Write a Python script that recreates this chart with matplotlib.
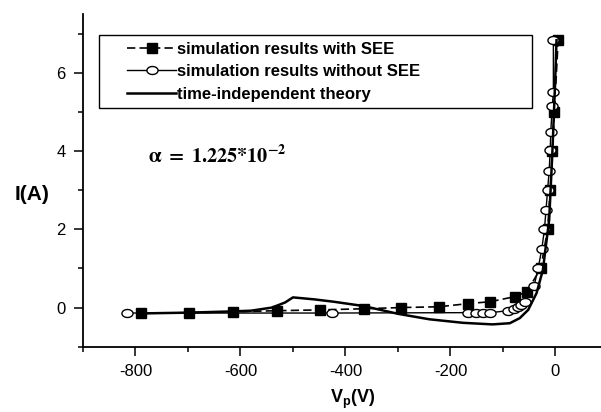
import matplotlib
matplotlib.use("Agg")
import matplotlib.pyplot as plt
import numpy as np
from matplotlib.path import Path
from matplotlib.lines import Line2D
from matplotlib.legend_handler import HandlerLine2D
from matplotlib.ticker import MultipleLocator

# simulation results with SEE (filled squares)
see_v = [-790, -698, -615, -530, -449, -365, -294, -222, -167, -124, -77, -55,
         -28, -15, -10, -6, -2, 5]
see_i = [-0.15, -0.13, -0.11, -0.08, -0.06, -0.03, 0.0, 0.02, 0.10, 0.15, 0.28, 0.40,
         1.0, 2.0, 3.0, 4.0, 5.0, 6.83]

# simulation results without SEE (open circles)
nosee_v = [-816, -425, -166, -152, -138, -124, -90, -79, -72, -65, -58, -41,
           -33, -26, -21, -18, -15, -12, -10, -9, -6, -4, -4]
nosee_i = [-0.14, -0.14, -0.13, -0.13, -0.13, -0.13, -0.08, -0.04, 0.01, 0.07, 0.14, 0.54,
           1.0, 1.5, 2.0, 2.5, 3.0, 3.5, 4.03, 4.49, 5.15, 5.51, 6.83]

# time-independent theory
theory_v = [-790, -700, -620, -580, -540, -515, -500, -460, -423, -366, -300, -240,
            -176, -120, -87, -68, -52, -36, -24, -19, -12, -6, -1, 2]
theory_i = [-0.15, -0.13, -0.10, -0.08, 0.0, 0.13, 0.26, 0.21, 0.15, 0.04, -0.16, -0.30,
            -0.39, -0.43, -0.40, -0.27, -0.06, 0.37, 0.96, 1.5, 2.24, 3.94, 5.64, 6.83]

plt.rcParams['font.family'] = ['Liberation Sans', 'DejaVu Sans']
plt.rcParams['axes.unicode_minus'] = False
plt.rcParams['mathtext.fontset'] = 'custom'
plt.rcParams['mathtext.rm'] = 'Liberation Sans:bold'
plt.rcParams['mathtext.bf'] = 'Liberation Sans:bold'
plt.rcParams['mathtext.it'] = 'Liberation Sans:bold'

# slightly flattened circle, like the reference
t = np.linspace(0, 2 * np.pi, 40)
ellipse = Path(np.column_stack([np.cos(t), 0.72 * np.sin(t)]), closed=True)

fig = plt.figure(figsize=(6.01, 4.12), dpi=100)
ax = fig.add_axes([0.1381, 0.1585, 0.8735, 0.8075])

ax.plot(see_v, see_i, color='black', lw=1.2, ls=(0, (5, 2.5)), marker='s', ms=7,
        mfc='black', mec='black', label='simulation results with SEE', zorder=3)
ax.plot(nosee_v, nosee_i, color='black', lw=1.0, marker=ellipse, ms=8,
        mfc='white', mec='black', mew=1.0, label='simulation results without SEE', zorder=4)
ax.plot(theory_v, theory_i, color='black', lw=1.8, label='time-independent theory', zorder=5)

ax.set_xlim(-900, 100)
ax.set_ylim(-1, 7.5)
ax.xaxis.set_major_locator(MultipleLocator(200))
ax.xaxis.set_minor_locator(MultipleLocator(100))
ax.yaxis.set_major_locator(MultipleLocator(2))
ax.yaxis.set_minor_locator(MultipleLocator(1))

for side in ['top', 'right']:
    ax.spines[side].set_visible(False)
for side in ['left', 'bottom']:
    ax.spines[side].set_linewidth(1.3)

ax.tick_params(which='major', direction='out', length=6.5, width=1.1, labelsize=12, pad=6)
ax.tick_params(which='minor', direction='out', length=3.5, width=1.1)

ax.set_xlabel(r'$\mathbf{V_p(V)}$', fontsize=13)
ax.xaxis.set_label_coords((353 - 83) / 525, -0.125)
ax.set_ylabel('I(A)', fontsize=15, fontweight='bold', rotation=0, va='center', ha='center')
ax.yaxis.set_label_coords((32 - 83) / 525, (346.7 - 194) / 332.7)

ax.text(148, 412 - 163, r'$\mathbf{\alpha\ =\ 1.225{*}10^{-2}}$', transform=None,
        fontsize=14.5, math_fontfamily='stix', va='baseline', ha='left')

# legend box spans about 99..532 px horizontally, 34..107 px vertically
x0, y1 = 99 / 601, 1 - 35 / 412
w, h = (532 - 99) / 601, (107 - 35) / 412
leg = ax.legend(loc='upper left', bbox_to_anchor=(x0, y1 - h, w, h), mode='expand',
                bbox_transform=fig.transFigure, frameon=True, fancybox=False,
                edgecolor='black', framealpha=1, handlelength=4.2, handletextpad=0.1,
                labelspacing=0.45, borderpad=0.4, borderaxespad=0,
                handler_map={Line2D: HandlerLine2D(xpad=1.3)},
                prop={'weight': 'bold', 'size': 12})
leg.get_frame().set_linewidth(1.0)

fig.savefig('out.png', dpi=100)
